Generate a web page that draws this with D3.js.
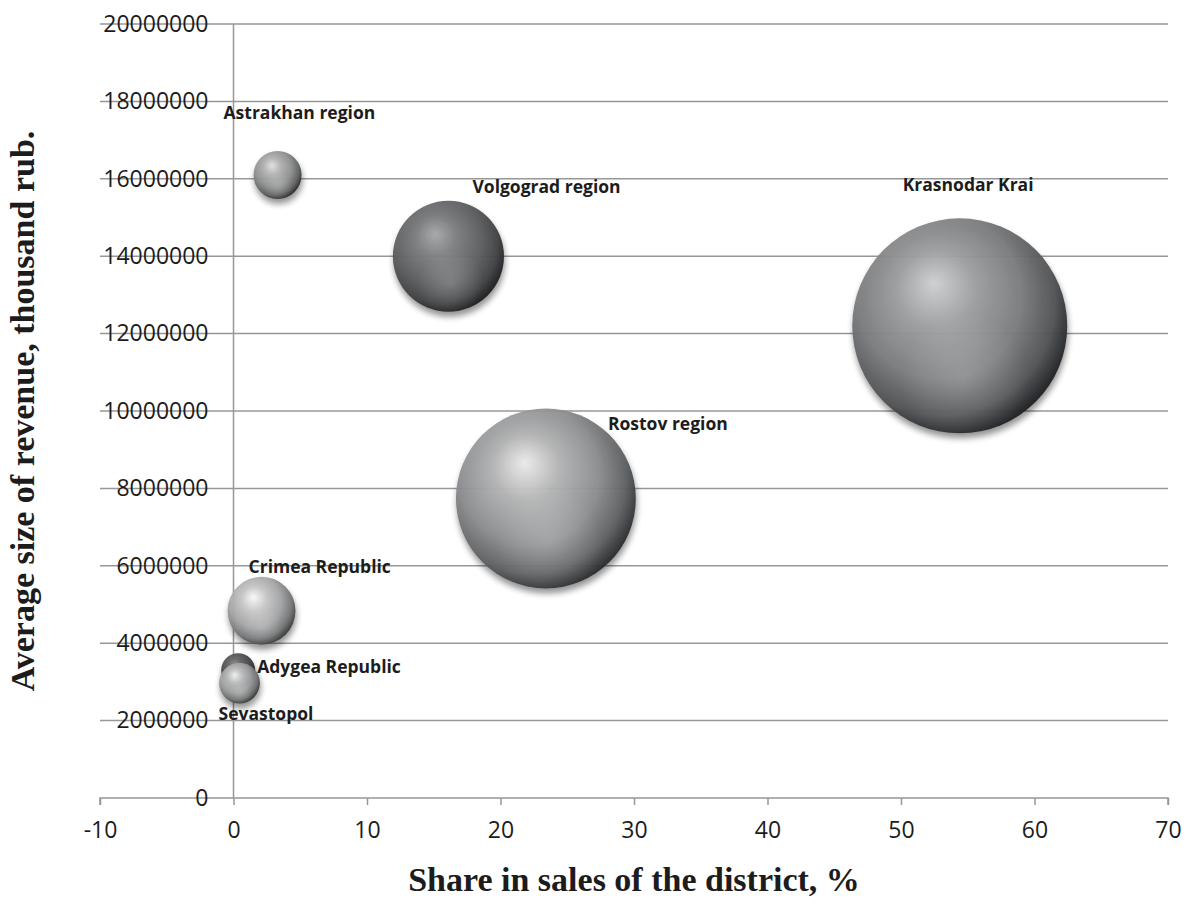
<!DOCTYPE html>
<html>
<head>
<meta charset="utf-8">
<script src="https://cdn.jsdelivr.net/npm/d3@7"></script>
<style>
  html, body { margin: 0; padding: 0; background: #ffffff; }
  svg { display: block; }
</style>
</head>
<body>
<svg id="chart" width="1193" height="918"></svg>
<script>
// Regions of the Southern Federal District
const regions = ["Astrakhan region", "Volgograd region", "Krasnodar Krai", "Rostov region",
                 "Crimea Republic", "Adygea Republic", "Sevastopol"];
// Share in sales of the district, %
const salesShare = [3.3, 16.1, 54.4, 23.4, 2.1, 0.35, 0.45];
// Average size of revenue, thousand rub.
const avgRevenue = [16100000, 14000000, 12200000, 7740000, 4840000, 3300000, 2970000];
// Relative bubble size (largest = 100)
const bubbleSize = [5, 26.7, 100, 70, 10, 2.5, 3.6];

const xTicks = [-10, 0, 10, 20, 30, 40, 50, 60, 70];
const yTicks = [0, 2000000, 4000000, 6000000, 8000000, 10000000, 12000000, 14000000,
                16000000, 18000000, 20000000];

// Sphere tones per region: [highlight, body, rim]
const tones = {
  "Astrakhan region": ["#e2e2e2", "#8e8f90", "#2a2b2c"],
  "Volgograd region": ["#a6a8aa", "#5e6062", "#1c1d1f"],
  "Krasnodar Krai":   ["#cfd1d2", "#7a7c7e", "#1e2022"],
  "Rostov region":    ["#ececec", "#8d8f91", "#2a2c2e"],
  "Crimea Republic":  ["#fbfbfb", "#a4a5a6", "#3a3b3c"],
  "Adygea Republic":  ["#8a8a8a", "#4a4b4c", "#1a1a1a"],
  "Sevastopol":       ["#f6f6f6", "#9b9c9d", "#333435"]
};
// Label placement relative to each bubble centre (px)
const labelOffset = {
  "Astrakhan region": [-54, -56],
  "Volgograd region": [24, -63],
  "Krasnodar Krai":   [-57, -135],
  "Rostov region":    [62, -68],
  "Crimea Republic":  [-13, -38],
  "Adygea Republic":  [19, 3],
  "Sevastopol":       [-21, 37]
};

const svg = d3.select("#chart");
const plot = { left: 100, right: 1168, top: 24, bottom: 798 };

const x = d3.scaleLinear().domain([-10, 70]).range([plot.left, plot.right]);
const y = d3.scaleLinear().domain([0, 20000000]).range([plot.bottom, plot.top]);
const r = d3.scaleSqrt().domain([0, 100]).range([0, 107.5]);

const gridColor = "#979797";
const textColor = "#1c1c1c";
const tickFont = "'Open Sans', 'Liberation Sans', sans-serif";
const titleFont = "'Liberation Serif', 'Times New Roman', serif";

// defs: gradients and shadow
const defs = svg.append("defs");
const shadow = defs.append("filter").attr("id", "shadow")
  .attr("x", "-30%").attr("y", "-30%").attr("width", "160%").attr("height", "170%");
shadow.append("feGaussianBlur").attr("in", "SourceAlpha").attr("stdDeviation", 3).attr("result", "b");
shadow.append("feOffset").attr("in", "b").attr("dx", 1).attr("dy", 5).attr("result", "o");
shadow.append("feComponentTransfer").attr("in", "o").attr("result", "s")
  .append("feFuncA").attr("type", "linear").attr("slope", 0.45);
const merge = shadow.append("feMerge");
merge.append("feMergeNode").attr("in", "s");
merge.append("feMergeNode").attr("in", "SourceGraphic");

regions.forEach((name, i) => {
  const t = tones[name];
  const g = defs.append("radialGradient").attr("id", "sph" + i)
    .attr("cx", "42%").attr("cy", "40%").attr("r", "62%")
    .attr("fx", "38%").attr("fy", "30%");
  g.append("stop").attr("offset", "0%").attr("stop-color", t[0]);
  g.append("stop").attr("offset", "30%").attr("stop-color", d3.interpolateRgb(t[0], t[1])(0.6));
  g.append("stop").attr("offset", "62%").attr("stop-color", t[1]);
  g.append("stop").attr("offset", "85%").attr("stop-color", d3.interpolateRgb(t[1], t[2])(0.45));
  g.append("stop").attr("offset", "100%").attr("stop-color", t[2]);

  // soft lower reflection
  const h = defs.append("radialGradient").attr("id", "refl" + i)
    .attr("cx", "52%").attr("cy", "74%").attr("r", "30%");
  h.append("stop").attr("offset", "0%").attr("stop-color", "#ffffff").attr("stop-opacity", 0.18);
  h.append("stop").attr("offset", "100%").attr("stop-color", "#ffffff").attr("stop-opacity", 0);
});

// horizontal gridlines
svg.append("g").selectAll("line")
  .data(yTicks.filter(v => v > 0))
  .join("line")
  .attr("x1", plot.left).attr("x2", plot.right)
  .attr("y1", d => y(d)).attr("y2", d => y(d))
  .attr("stroke", gridColor).attr("stroke-width", 1.5);

// vertical axis line at x = 0
svg.append("line")
  .attr("x1", x(0)).attr("x2", x(0))
  .attr("y1", y(20000000)).attr("y2", plot.bottom)
  .attr("stroke", gridColor).attr("stroke-width", 1.5);

// x axis
const xAxis = svg.append("g")
  .attr("transform", `translate(0,${plot.bottom})`)
  .call(d3.axisBottom(x).tickValues(xTicks).tickSize(7).tickPadding(17).tickFormat(d => String(d)));
xAxis.select(".domain").attr("stroke", gridColor).attr("stroke-width", 1.5).attr("d", `M${plot.left},7V0H${plot.right}V7`);
xAxis.selectAll(".tick line").attr("stroke", gridColor).attr("stroke-width", 1.5);
xAxis.selectAll(".tick text")
  .attr("fill", textColor).attr("font-family", tickFont).attr("font-size", 23);

// y axis labels (next to the vertical axis at x = 0)
const yAxis = svg.append("g")
  .attr("transform", `translate(${x(0)},0)`)
  .call(d3.axisLeft(y).tickValues(yTicks).tickSize(0).tickPadding(25).tickFormat(d => String(d)));
yAxis.select(".domain").remove();
yAxis.selectAll(".tick text")
  .attr("fill", textColor).attr("font-family", tickFont).attr("font-size", 23);

// bubbles
const data = regions.map((name, i) => ({
  name, i, share: salesShare[i], revenue: avgRevenue[i], size: bubbleSize[i]
}));

const bubbles = svg.append("g").selectAll("g")
  .data(data)
  .join("g")
  .attr("transform", d => `translate(${x(d.share)},${y(d.revenue)})`);

bubbles.append("circle")
  .attr("r", d => r(d.size))
  .attr("fill", d => `url(#sph${d.i})`)
  .attr("fill-opacity", 0.94)
  .attr("filter", "url(#shadow)");
bubbles.append("circle")
  .attr("r", d => r(d.size))
  .attr("fill", d => `url(#refl${d.i})`);

// data labels
svg.append("g").selectAll("text")
  .data(data)
  .join("text")
  .attr("x", d => x(d.share) + labelOffset[d.name][0])
  .attr("y", d => y(d.revenue) + labelOffset[d.name][1])
  .attr("font-family", tickFont)
  .attr("font-weight", 700)
  .attr("font-size", 17.5)
  .attr("fill", textColor)
  .text(d => d.name);

// axis titles
svg.append("text")
  .attr("x", (plot.left + plot.right) / 2)
  .attr("y", 891)
  .attr("text-anchor", "middle")
  .attr("font-family", titleFont)
  .attr("font-weight", 700)
  .attr("font-size", 34)
  .attr("fill", textColor)
  .text("Share in sales of the district, %");

svg.append("text")
  .attr("transform", `translate(34,${(plot.top + plot.bottom) / 2}) rotate(-90)`)
  .attr("text-anchor", "middle")
  .attr("font-family", titleFont)
  .attr("font-weight", 700)
  .attr("font-size", 34)
  .attr("fill", textColor)
  .text("Average size of revenue, thousand rub.");
</script>
</body>
</html>
